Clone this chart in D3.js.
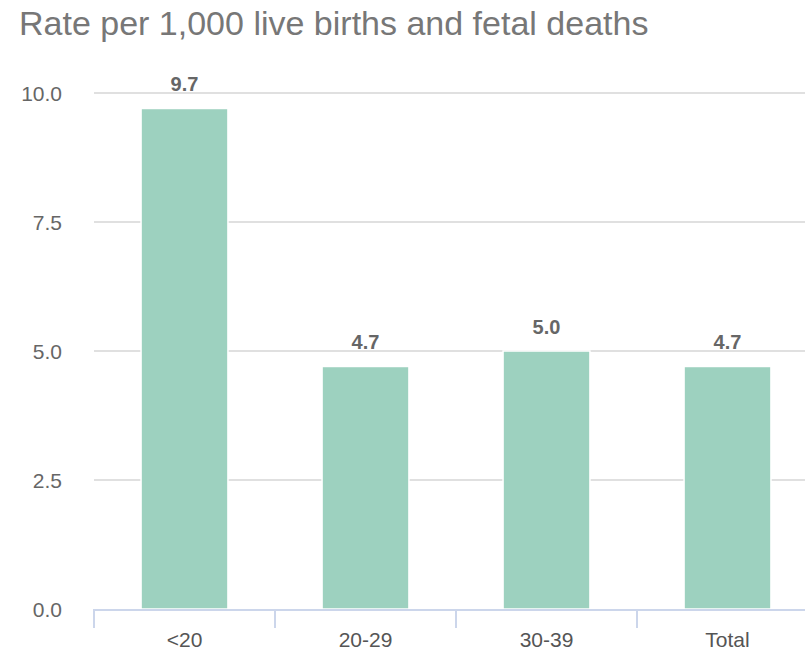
<!DOCTYPE html>
<html>
<head>
<meta charset="utf-8">
<script src="https://cdn.jsdelivr.net/npm/d3@7"></script>
<style>
	body { margin: 0; background: #fff; }
	text { font-family: "Liberation Sans", Arial, sans-serif; }
</style>
</head>
<body>
<div id="chart"></div>
<script>
// Data
//---------
var categories = ["<20", "20-29", "30-39", "Total"];
var rates = [9.7, 4.7, 5.0, 4.7];
var yTicks = [0, 2.5, 5, 7.5, 10];

var width = 805, height = 652;
var margin = {top: 93, right: -13, bottom: 43, left: 94};

var svg = d3.select("#chart").append("svg")
	.attr("width", width)
	.attr("height", height);

//-- Title
svg.append("text")
	.attr("x", 19)
	.attr("y", 35)
	.attr("font-size", 34)
	.attr("fill", "#777")
	.text("Rate per 1,000 live births and fetal deaths");

//-- Scales
var x = d3.scaleBand()
	.domain(categories)
	.range([margin.left, width - margin.right])
	.paddingInner(0.52)
	.paddingOuter(0.26);

var y = d3.scaleLinear()
	.domain([0, 10])
	.range([height - margin.bottom, margin.top]);

//-- Grid lines
svg.append("g").selectAll("line")
	.data(yTicks.slice(1))
	.enter().append("line")
	.attr("x1", margin.left)
	.attr("x2", width)
	.attr("y1", function(d) { return y(d); })
	.attr("y2", function(d) { return y(d); })
	.attr("stroke", "#e0e0e0")
	.attr("stroke-width", 2);

//-- Y labels
svg.append("g").selectAll("text")
	.data(yTicks)
	.enter().append("text")
	.attr("x", 62)
	.attr("y", function(d) { return y(d); })
	.attr("text-anchor", "end")
	.attr("dominant-baseline", "central")
	.attr("font-size", 21)
	.attr("fill", "#666")
	.text(function(d) { return d3.format(".1f")(d); });

//-- Bars
svg.append("g").selectAll("rect")
	.data(rates)
	.enter().append("rect")
	.attr("x", function(d, i) { return x(categories[i]); })
	.attr("y", function(d) { return y(d); })
	.attr("width", x.bandwidth())
	.attr("height", function(d) { return y(0) - y(d); })
	.attr("fill", "#9dd1bf")
	.attr("stroke", "#fff")
	.attr("stroke-width", 1.5);

//-- Value labels
svg.append("g").selectAll("text")
	.data(rates)
	.enter().append("text")
	.attr("x", function(d, i) { return x(categories[i]) + x.bandwidth() / 2; })
	.attr("y", function(d) { return y(d) - 17; })
	.attr("text-anchor", "middle")
	.attr("font-size", 20)
	.attr("font-weight", "bold")
	.attr("fill", "#666")
	.text(function(d) { return d3.format(".1f")(d); });

//-- X axis
var xAxis = d3.axisBottom(x).tickSize(0).tickPadding(23);
var gx = svg.append("g")
	.attr("transform", "translate(0," + y(0) + ")")
	.call(xAxis);
gx.select(".domain").remove();
gx.selectAll("text")
	.attr("font-size", 21)
	.attr("fill", "#555");

svg.append("line")
	.attr("x1", margin.left)
	.attr("x2", width)
	.attr("y1", y(0) + 1)
	.attr("y2", y(0) + 1)
	.attr("stroke", "#ccd6eb")
	.attr("stroke-width", 2);

var step = x.step();
svg.append("g").selectAll("line")
	.data(categories)
	.enter().append("line")
	.attr("x1", function(d, i) { return margin.left + i * step; })
	.attr("x2", function(d, i) { return margin.left + i * step; })
	.attr("y1", y(0))
	.attr("y2", y(0) + 19)
	.attr("stroke", "#ccd6eb")
	.attr("stroke-width", 2);
</script>
</body>
</html>
